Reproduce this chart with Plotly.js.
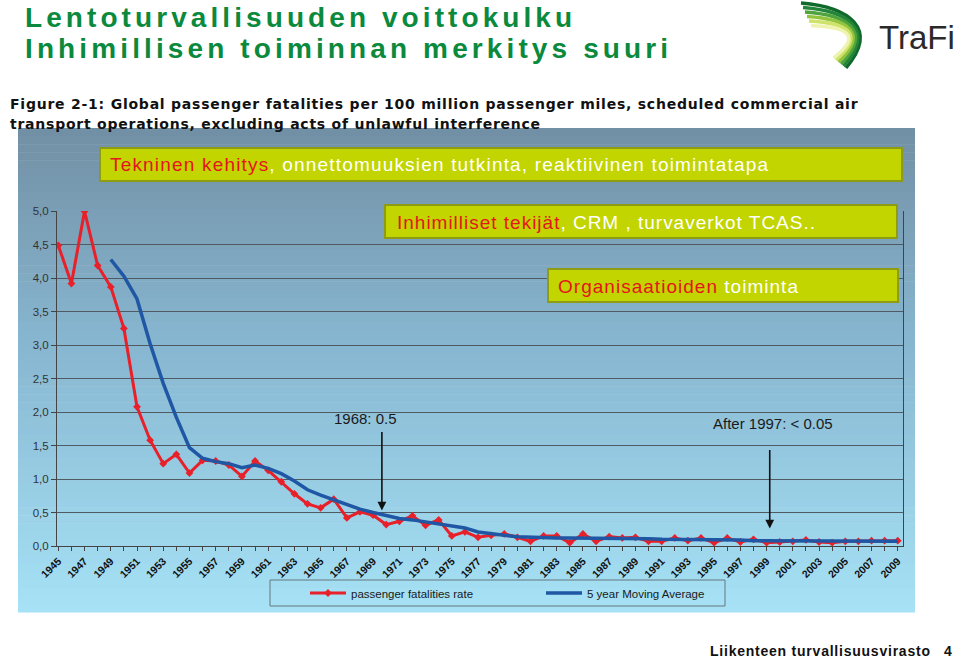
<!DOCTYPE html>
<html><head><meta charset="utf-8">
<script src="https://cdn.plot.ly/plotly-3.0.1.min.js"></script>
<style>html,body{margin:0;padding:0;background:#fff;overflow:hidden}#chart{width:959px;height:662px}</style>
</head><body><div id="chart"></div>
<script>
// ---------- data ----------
const years = Array.from({length: 65}, (_, i) => 1945 + i);
const fatalityRate = [
  4.49,3.92,5.00,4.19,3.87,3.25,2.08,1.58,1.23,1.37,
  1.09,1.28,1.27,1.21,1.04,1.27,1.13,0.96,0.78,0.63,
  0.57,0.70,0.42,0.51,0.46,0.32,0.37,0.45,0.31,0.39,
  0.15,0.21,0.13,0.16,0.18,0.13,0.07,0.15,0.15,0.05,
  0.18,0.07,0.14,0.12,0.13,0.07,0.07,0.12,0.08,0.12,
  0.05,0.12,0.06,0.10,0.05,0.06,0.07,0.09,0.06,0.05,
  0.07,0.07,0.08,0.08,0.08];
const movingAverage = [
  null,null,null,null,4.28,4.03,3.69,3.02,2.43,1.92,
  1.47,1.31,1.26,1.23,1.17,1.21,1.16,1.08,0.97,0.84,
  0.76,0.69,0.61,0.55,0.50,0.45,0.41,0.39,0.36,0.34,
  0.30,0.27,0.21,0.18,0.16,0.14,0.13,0.13,0.12,0.12,
  0.12,0.12,0.12,0.11,0.11,0.11,0.10,0.10,0.09,0.09,
  0.09,0.09,0.09,0.08,0.08,0.08,0.07,0.07,0.07,0.07,
  0.07,0.07,0.07,0.07,0.07];
const yTickVals = [0,0.5,1,1.5,2,2.5,3,3.5,4,4.5,5];
const yTickText = ['0,0','0,5','1,0','1,5','2,0','2,5','3,0','3,5','4,0','4,5','5,0'];
const labelledYears = [1945,1947,1949,1951,1953,1955,1957,1959,1961,1963,1965,1967,1969,1971,1973,1975,1977,1979,1981,1983,1985,1987,1989,1991,1993,1995,1997,1999,2001,2003,2005,2007,2009];
const xTickText = years.map(y => labelledYears.includes(y) ? String(y) : '');
const seriesNames = ['passenger fatalities rate', '5 year Moving Average'];

// ---------- geometry helpers (plot area 57..903 x 211..546) ----------
const PL = 57, PR = 903, PT = 211, PB = 546;
const px2x = p => (p - PL) / (PR - PL);
const py2y = p => (PB - p) / (PB - PT);

const shapes = [];
// background gradient panel
const stops = [[128,[114,143,164]],[330,[134,180,206]],[612,[166,226,246]]];
function colAt(py){
  for(let i=0;i<stops.length-1;i++){
    const [a,ca]=stops[i],[b,cb]=stops[i+1];
    if(py<=b){const t=(py-a)/(b-a);return 'rgb('+ca.map((c,j)=>Math.round(c+(cb[j]-c)*t)).join(',')+')';}
  }
  return 'rgb('+stops[stops.length-1][1].join(',')+')';
}
const nBands = 60, panelTop = 128, panelBot = 612;
for(let i=0;i<nBands;i++){
  const y0 = panelTop + (panelBot-panelTop)*i/nBands, y1 = panelTop + (panelBot-panelTop)*(i+1)/nBands + 0.6;
  shapes.push({type:'rect',xref:'paper',yref:'paper',x0:px2x(18),x1:px2x(915),y0:py2y(y1),y1:py2y(y0),
    fillcolor:colAt((y0+y1)/2),line:{width:0},layer:'below'});
}
// legend frame
shapes.push({type:'rect',xref:'paper',yref:'paper',x0:px2x(270),x1:px2x(725),y0:py2y(606),y1:py2y(580),
  line:{color:'#66767e',width:1},fillcolor:'rgba(0,0,0,0)',layer:'above'});
// text boxes
const boxFill = '#c2d500', boxLine = '#8d9c12';
[[100,902,148,181],[385,897,205,238],[548,898,269,302]].forEach(b=>{
  shapes.push({type:'rect',xref:'paper',yref:'paper',x0:px2x(b[0]),x1:px2x(b[1]),y0:py2y(b[3]),y1:py2y(b[2]),
    fillcolor:boxFill,line:{color:boxLine,width:2},layer:'above'});
});
// logo swoosh
const logoCols = ['#0f6a2c','#23843a','#4ea33c','#93c43e','#cfe36a','#eef3b0'];
logoCols.forEach((c,k)=>{
  const p = [[801+k*2,3+k*4.5],[848,7+k*4],[880-k*3.5,28+k*1.5],[846-k*2.5,68-k*2]];
  const path = 'M '+px2x(p[0][0])+','+py2y(p[0][1])+' C '+px2x(p[1][0])+','+py2y(p[1][1])+' '+px2x(p[2][0])+','+py2y(p[2][1])+' '+px2x(p[3][0])+','+py2y(p[3][1]);
  shapes.push({type:'path',xref:'paper',yref:'paper',path:path,line:{color:c,width:3.4},layer:'above'});
});

// ---------- annotations ----------
const annotations = [], annTargets = [];
function addText(text, px, py, font, target, extra){
  annotations.push(Object.assign({xref:'paper',yref:'paper',x:px2x(px),y:py2y(py),xanchor:'left',yanchor:'middle',
    align:'left',text:text,showarrow:false,font:font,borderpad:0,borderwidth:0},extra||{}));
  annTargets.push(target||0);
}
const titleFont = {family:'Liberation Sans Narrow, Liberation Sans, Arial, sans-serif',size:28,color:'#0b8a3e',weight:700};
addText('Lentoturvallisuuden voittokulku', 25, 18, titleFont, 547);
addText('Inhimillisen toiminnan merkitys suuri', 25, 49, titleFont, 643);
const capFont = {family:'DejaVu Sans, Verdana, sans-serif',size:14,color:'#111',weight:700};
addText('Figure 2-1: Global passenger fatalities per 100 million passenger miles, scheduled commercial air', 10, 104, capFont, 848);
addText('transport operations, excluding acts of unlawful interference', 10, 124, capFont, 530);
const boxFont = {family:'Liberation Sans Narrow, Liberation Sans, Arial, sans-serif',size:19,color:'#ffffff'};
const red = s => '<span style="color:#e5141e">'+s+'</span>';
addText(red('Tekninen kehitys')+', onnettomuuksien tutkinta, reaktiivinen toimintatapa', 110, 165, boxFont, 658);
addText(red('Inhimilliset tekijät')+', CRM , turvaverkot TCAS..', 397, 222, boxFont, 418);
addText(red('Organisaatioiden')+' toiminta', 558, 286, boxFont, 240);
const footFont = {family:'Liberation Sans Narrow, Liberation Sans, Arial, sans-serif',size:14,color:'#111',weight:700};
addText('Liikenteen turvallisuusvirasto', 710, 651, footFont, 220);
addText('4', 944, 651, footFont, 0);
addText('TraFi', 879, 37, {family:'Liberation Sans, Arial, sans-serif',size:33,color:'#2a2a2a'}, 0);

// chart annotations (data coordinates)
const noteFont = {family:'Liberation Sans, Arial, sans-serif',size:15,color:'#1a1a1a'};
annotations.push({xref:'x',yref:'y',x:1969.67,y:0.53,ax:0,ay:-80,text:'',showarrow:true,arrowhead:2,arrowsize:1.1,arrowwidth:1.6,arrowcolor:'#111'});
annTargets.push(0);
annotations.push({xref:'x',yref:'y',x:1968.4,y:(PB-418)/67,text:'1968: 0.5',showarrow:false,font:noteFont});
annTargets.push(0);
annotations.push({xref:'x',yref:'y',x:1999.24,y:0.26,ax:0,ay:-80,text:'',showarrow:true,arrowhead:2,arrowsize:1.1,arrowwidth:1.6,arrowcolor:'#111'});
annTargets.push(0);
annotations.push({xref:'x',yref:'y',x:1999.5,y:(PB-423)/67,text:'After 1997: &lt; 0.05',showarrow:false,font:noteFont});
annTargets.push(0);

// ---------- traces ----------
const data = [
  {x:years,y:fatalityRate,name:seriesNames[0],type:'scatter',mode:'lines+markers',
   line:{color:'#e8202a',width:3},marker:{symbol:'diamond',size:6,color:'#e8202a'},hoverinfo:'skip'},
  {x:years,y:movingAverage,name:seriesNames[1],type:'scatter',mode:'lines',
   line:{color:'#1f57a4',width:3.5},connectgaps:false,hoverinfo:'skip'}
];

const layout = {
  width:959,height:662,
  margin:{l:PL,r:959-PR,t:PT,b:662-PB},
  paper_bgcolor:'#ffffff',plot_bgcolor:'rgba(0,0,0,0)',
  showlegend:true,
  legend:{orientation:'h',x:px2x(305),y:py2y(593),xanchor:'left',yanchor:'middle',bgcolor:'rgba(0,0,0,0)',
    borderwidth:0,font:{family:'Liberation Sans, Arial, sans-serif',size:11.5,color:'#1a1a1a'},entrywidth:185,entrywidthmode:'pixels',itemwidth:36},
  xaxis:{range:[1944.9,2009.4],tickmode:'array',tickvals:years,ticktext:xTickText,tickangle:-45,
    ticks:'outside',ticklen:4,tickcolor:'#444',showgrid:false,zeroline:false,showline:true,linecolor:'#444',linewidth:1,
    tickfont:{family:'Liberation Sans, Arial, sans-serif',size:10.5,color:'#111',weight:700}},
  yaxis:{range:[0,5.004],tickmode:'array',tickvals:yTickVals,ticktext:yTickText,ticks:'outside',ticklen:5,tickcolor:'#444',
    showgrid:true,gridcolor:'#4f5a62',gridwidth:1,zeroline:false,showline:true,linecolor:'#444',linewidth:1,mirror:true,
    tickfont:{family:'Liberation Sans, Arial, sans-serif',size:11.5,color:'#333'}},
  shapes:shapes,annotations:annotations
};

const gd = document.getElementById('chart');
Plotly.newPlot(gd,data,layout,{staticPlot:true,displayModeBar:false}).then(()=>{
  const groups = gd.querySelectorAll('.annotation');
  groups.forEach((g,i)=>{
    const di = g.getAttribute('data-index');
    const idx = di!==null ? +di : i;
    const tw = annTargets[idx];
    if(!tw) return;
    const t = g.querySelector('text.annotation-text') || g.querySelector('text');
    if(!t) return;
    const n = t.textContent.length;
    const w = t.getComputedTextLength();
    t.style.letterSpacing = ((tw - w)/(n-1)).toFixed(2)+'px';
  });
});
</script></body></html>
